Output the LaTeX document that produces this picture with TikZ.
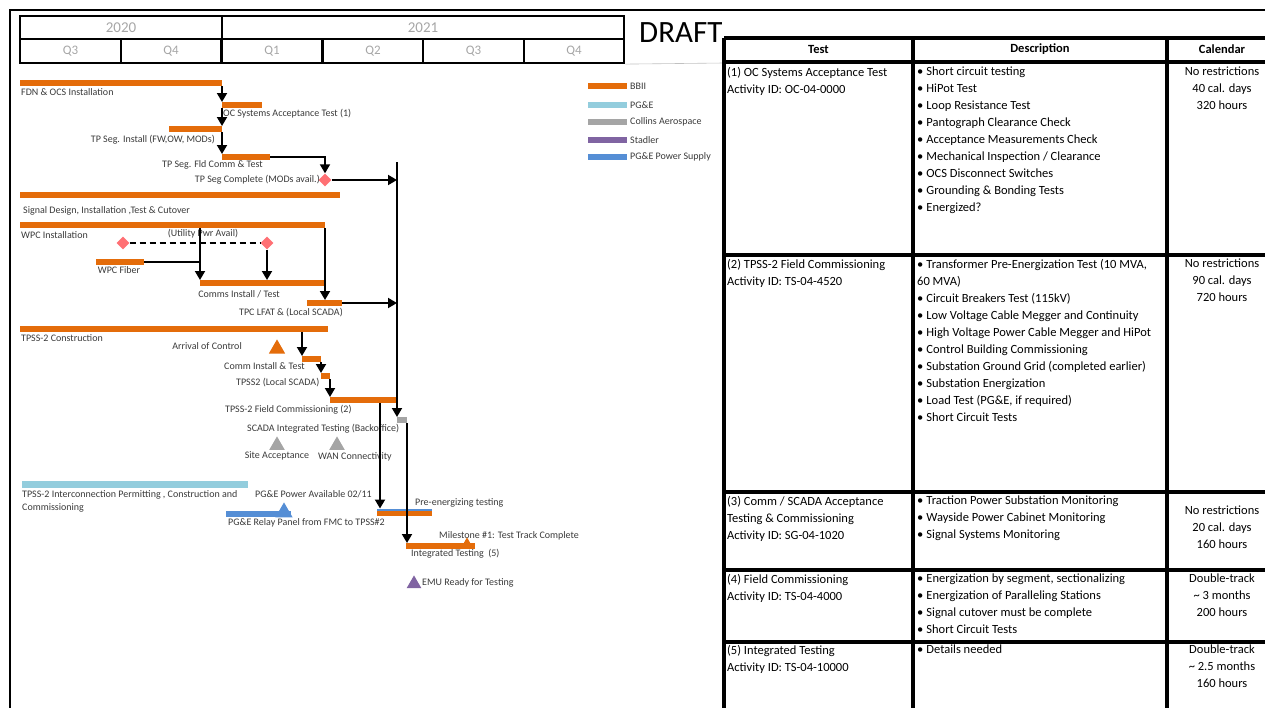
\documentclass[tikz,border=0pt]{standalone}
\usepackage{fontspec}
\setmainfont{Carlito}
\usetikzlibrary{positioning, arrows.meta, shapes.geometric, calc}
\definecolor{bbiiorange}{HTML}{E46C0A}
\definecolor{pgeblue}{HTML}{93CDDD}
\definecolor{collinsgray}{HTML}{A5A5A5}
\definecolor{stadlerpurple}{HTML}{8064A2}
\definecolor{pwrblue}{HTML}{558ED5}
\definecolor{mspink}{HTML}{FF7074}
\definecolor{labelgray}{HTML}{3A3A3A}
\definecolor{headgray}{HTML}{A6A6A6}
\newcommand{\gfont}{\fontsize{10}{13}\selectfont}
\newcommand{\tfont}{\fontsize{12.5}{17}\selectfont}
\newcommand{\itm}{\textbullet\hspace{3pt}}
\tikzset{
  Bar/.style={fill=#1, inner sep=0pt, outer sep=0pt, minimum height=6,
    anchor=north west},
  T/.style={font=\gfont, text=labelgray, inner sep=0pt},
  a/.style={-{Triangle[length=9pt, width=10pt]}, line width=1.8pt},
  l/.style={line width=1.8pt},
  da/.style={line width=2pt, dash pattern=on 6pt off 4pt},
  M/.style={diamond, fill=mspink, minimum size=13, inner sep=0pt},
  V/.style={regular polygon, regular polygon sides=3, fill=#1,
    inner sep=0pt, minimum size=18, anchor=corner 1},
  Y/.style={draw, line width=2.2pt, inner sep=0pt, minimum height=23,
    text=headgray, font=\fontsize{15}{15}\selectfont},
  Q/.style={draw, line width=2.2pt, inner sep=0pt, minimum height=24,
    minimum width=100.5, text=headgray, font=\fontsize{13}{13}\selectfont},
  K/.style={anchor=north west, align=left, inner sep=0pt, font=\tfont},
  C/.style={anchor=north, align=center, inner sep=0pt, font=\tfont},
  G/.style={line width=3.2pt},
}

\begin{document}
\begin{tikzpicture}[x=1pt, y=-1pt]
\useasboundingbox (0,0) rectangle (1265,707);

% outer frame
\draw[line width=2.6pt] (10,712) -- (10,10) -- (1270,10);

% ---------------- timeline header ----------------
\node[Y, minimum width=202] at (121,27.5) (y2020) {2020};
\node[Y, minimum width=402] at (423,27.5) (y2021) {2021};
\node[Q] at (70.5,51) (q3a) {Q3};
\node[Q] at (171,51) (q4a) {Q4};
\node[Q] at (272,51) (q1b) {Q1};
\node[Q] at (373,51) (q2b) {Q2};
\node[Q] at (473.5,51) (q3b) {Q3};
\node[Q] at (574,51) (q4b) {Q4};
\draw[headgray!70, line width=0.6pt] (q4b.south east) -- (724,63);

\node[font=\fontsize{31}{31}\selectfont, anchor=base west, inner sep=0pt]
  at (639,42) (draft) {DRAFT};

% ---------------- legend ----------------
\node[Bar=bbiiorange, minimum width=39] at (588,83) (lgbb) {};
\node[T, right=3pt of lgbb] (lgbbt) {BBII};
\node[Bar=pgeblue, minimum width=39] at (588,102) (lgpge) {};
\node[T, right=3pt of lgpge] (lgpget) {PG\&E};
\node[Bar=collinsgray, minimum width=39] at (588,119) (lgcol) {};
\node[T, right=3pt of lgcol] (lgcolt) {Collins Aerospace};
\node[Bar=stadlerpurple, minimum width=39] at (588,137) (lgsta) {};
\node[T, right=3pt of lgsta] (lgstat) {Stadler};
\node[Bar=pwrblue, minimum width=39] at (588,154) (lgpwr) {};
\node[T, right=3pt of lgpwr] (lgpwrt) {PG\&E Power Supply};

% ---------------- traction power segment ----------------
\coordinate (vtop) at (397,162);

\node[Bar=bbiiorange, minimum width=202] at (20,80) (fdn) {};
\node[T, anchor=west] at (21,92) (fdnt) {FDN \& OCS Installation};
\node[Bar=bbiiorange, minimum width=40] at (222,102) (ocat) {};
\node[T, anchor=west] at (223,114) (ocatt) {OC Systems Acceptance Test (1)};
\node[Bar=bbiiorange, minimum width=53] at (169,126) (tpinst) {};
\node[T, anchor=east] at (215,140) (tpinstt) {TP Seg. Install (FW,OW, MODs)};
\node[Bar=bbiiorange, minimum width=48] at (222,154) (tpfld) {};
\node[T, anchor=west] at (162,165) (tpfldt) {TP Seg. Fld Comm \& Test};
\node[M] at (325,180) (tpcomp) {};
\node[T, anchor=east] at (320,180) (tpcompt) {TP Seg Complete (MODs avail.)};

\draw[a] (fdn.south east) -- (ocat.north west);
\draw[a] (ocat.south west) -- (tpinst.north east);
\draw[a] (tpinst.south east) -- (tpfld.north west);
\draw[a] (tpfld.east) -| (tpcomp.north);
\draw[a] (tpcomp.east) -- (tpcomp.east -| vtop);

% ---------------- signal / WPC ----------------
\node[Bar=bbiiorange, minimum width=320] at (20,192) (sig) {};
\node[T, anchor=west] at (23,211) (sigt) {Signal Design, Installation ,Test \& Cutover};
\node[Bar=bbiiorange, minimum width=305] at (20,222) (wpcinst) {};
\node[T, anchor=west] at (21,235) (wpcinstt) {WPC Installation};
\node[T] at (203,234) (utilt) {(Utility Pwr Avail)};
\node[M] at (123,243) (pwr1) {};
\node[M] at (267,243) (pwr2) {};
\node[Bar=bbiiorange, minimum width=48] at (96,259) (wpcfib) {};
\node[T] at (119,270) (wpcfibt) {WPC Fiber};
\node[Bar=bbiiorange, minimum width=125] at (200,280) (comms) {};
\node[T] at (239,294) (commst) {Comms Install / Test};
\node[Bar=bbiiorange, minimum width=35] at (307,300) (lfat) {};
\node[T, anchor=east] at (343,313) (lfatt) {TPC LFAT \& (Local SCADA)};

\draw[da] (pwr1.east) -- (pwr2.west);
\draw[a] (wpcinst.south -| comms.north west) -- (comms.north west);
\draw[l] (wpcfib.east) -- (wpcfib.east -| comms.north west);
\draw[a] (pwr2.south) -- (pwr2.south |- comms.north);
\draw[a] (wpcinst.south east) -- (wpcinst.south east |- lfat.north);
\draw[a] (lfat.east) -- (lfat.east -| vtop);

% ---------------- TPSS-2 ----------------
\node[Bar=bbiiorange, minimum width=308] at (20,326) (tpss) {};
\node[T, anchor=west] at (21,338) (tpsst) {TPSS-2 Construction};
\node[V=bbiiorange, minimum size=19] at (277,339) (arrival) {};
\node[T, anchor=east] at (242,346) (arrivalt) {Arrival of Control};
\node[Bar=bbiiorange, minimum width=19] at (302,356) (comm) {};
\node[T, anchor=west] at (224,366) (commt) {Comm Install \& Test};
\node[Bar=bbiiorange, minimum width=9] at (321,373) (tpssl) {};
\node[T, anchor=west] at (236,383) (tpsslt) {TPSS2 (Local SCADA)};
\node[Bar=bbiiorange, minimum width=67] at (330,397) (fc2) {};
\node[T, anchor=west] at (225,410) (fc2t) {TPSS-2 Field Commissioning (2)};
\node[Bar=collinsgray, minimum width=10] at (397,417) (scada) {};
\node[T, anchor=west] at (247,429) (scadat) {SCADA Integrated Testing (Backoffice)};
\node[V=collinsgray] at (277,436) (siteacc) {};
\node[T] at (277,456) (siteacct) {Site Acceptance};
\node[V=collinsgray] at (337,436) (wan) {};
\node[T] at (355,457) (want) {WAN Connectivity};

\draw[a] (tpss.south -| comm.north west) -- (comm.north west);
\draw[a] (comm.south east) -- (tpssl.north west);
\draw[a] (tpssl.south east) -- (fc2.north west);
\draw[a] (vtop) -- (scada.north west);

% ---------------- PG&E / testing ----------------
\node[Bar=pgeblue, minimum width=226, minimum height=7] at (22,481) (icon) {};
\node[T, anchor=west, align=left] at (22,501) (icont)
  {TPSS-2 Interconnection Permitting , Construction and\\Commissioning};
\node[T, anchor=west] at (255,494) (pwravt) {PG\&E Power Available 02/11};
\node[Bar=pwrblue, minimum width=65] at (226,511) (relay) {};
\node[V=pwrblue, minimum size=20] at (284,502) (pwrav) {};
\node[T, anchor=west] at (228,523) (relayt) {PG\&E Relay Panel from FMC to TPSS\#2};
\node[Bar=bbiiorange, minimum width=55, minimum height=5] at (377,511) (preen) {};
\node[Bar=pwrblue, minimum width=55, minimum height=2.5] at (377,508.5) (preenp) {};
\node[T, anchor=west] at (415,503) (preent) {Pre-energizing testing};
\node[Bar=bbiiorange, minimum width=69] at (406,543) (integ) {};
\node[V=bbiiorange, minimum size=15] at (467,537) (ms1) {};
\node[T, anchor=west] at (439,536) (ms1t) {Milestone \#1: Test Track Complete};
\node[T, anchor=west] at (411,554) (integt) {Integrated Testing\ \ (5)};
\node[V=stadlerpurple, minimum size=17] at (414,575) (emu) {};
\node[T, anchor=west] at (422,583) (emut) {EMU Ready for Testing};

\coordinate (drop) at (380,403);
\draw[a] (drop) -- (drop |- preenp.north);
\draw[a] (scada.south east) -- (scada.south east |- integ.north);

% ---------------- test table ----------------
\draw[G] (724,38) -- (1270,38);
\draw[G] (724,62) -- (1270,62);
\draw[G] (724,255) -- (1270,255);
\draw[G] (724,492) -- (1270,492);
\draw[G] (724,570) -- (1270,570);
\draw[G] (724,642) -- (1270,642);
\draw[G] (724,38) -- (724,712);
\draw[G] (913,38) -- (913,712);
\draw[G] (1167,38) -- (1167,712);

\node[font=\tfont\bfseries, inner sep=0pt] at (818.5,49.5) (htest) {Test};
\node[font=\tfont\bfseries, inner sep=0pt] at (1040,49.5) (hdesc) {Description};
\node[font=\tfont\bfseries, inner sep=0pt] at (1222,49.5) (hcal) {Calendar};

% (1)
\node[K] at (727,67) (t1) {(1) OC Systems Acceptance Test\\Activity ID: OC-04-0000};
\node[K] at (917,67) (d1) {\itm Short circuit testing\\\itm HiPot Test\\
  \itm Loop Resistance Test\\\itm Pantograph Clearance Check\\
  \itm Acceptance Measurements Check\\\itm Mechanical Inspection / Clearance\\
  \itm OCS Disconnect Switches\\\itm Grounding \& Bonding Tests\\\itm Energized?};
\node[C] at (1222,67) (k1) {No restrictions\\40 cal. days\\320 hours};

% (2)
\node[K] at (727,259) (t2) {(2) TPSS-2 Field Commissioning\\Activity ID: TS-04-4520};
\node[K] at (917,259) (d2) {\itm Transformer Pre-Energization Test (10 MVA,\\60 MVA)\\
  \itm Circuit Breakers Test (115kV)\\\itm Low Voltage Cable Megger and Continuity\\
  \itm High Voltage Power Cable Megger and HiPot\\\itm Control Building Commissioning\\
  \itm Substation Ground Grid (completed earlier)\\\itm Substation Energization\\
  \itm Load Test (PG\&E, if required)\\\itm Short Circuit Tests};
\node[C] at (1222,259) (k2) {No restrictions\\90 cal. days\\720 hours};

% (3)
\node[K] at (727,496) (t3) {(3) Comm / SCADA Acceptance\\Testing \& Commissioning\\Activity ID: SG-04-1020};
\node[K] at (917,496) (d3) {\itm Traction Power Substation Monitoring\\
  \itm Wayside Power Cabinet Monitoring\\\itm Signal Systems Monitoring};
\node[C] at (1222,506) (k3) {No restrictions\\20 cal. days\\160 hours};

% (4)
\node[K] at (727,574) (t4) {(4) Field Commissioning\\Activity ID: TS-04-4000};
\node[K] at (917,574) (d4) {\itm Energization by segment, sectionalizing\\
  \itm Energization of Paralleling Stations\\\itm Signal cutover must be complete\\
  \itm Short Circuit Tests};
\node[C] at (1222,574) (k4) {Double-track\\\textasciitilde\ 3 months\\200 hours};

% (5)
\node[K] at (727,645) (t5) {(5) Integrated Testing\\Activity ID: TS-04-10000};
\node[K] at (917,645) (d5) {\itm Details needed};
\node[C] at (1222,645) (k5) {Double-track\\\textasciitilde\ 2.5 months\\160 hours};

\end{tikzpicture}
\end{document}
